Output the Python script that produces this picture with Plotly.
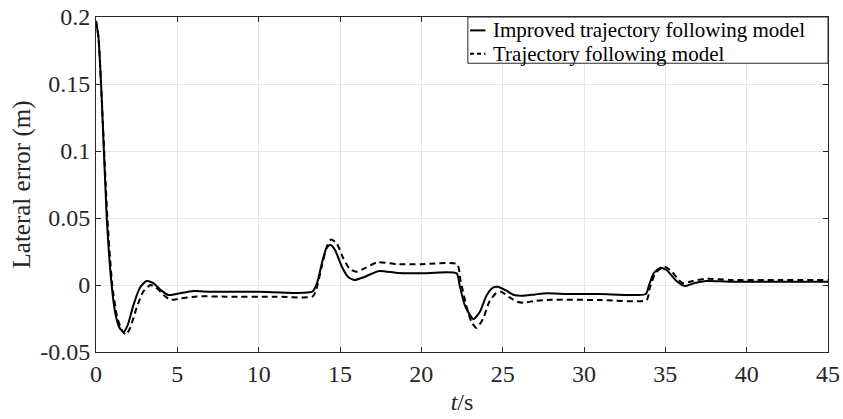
import plotly.graph_objects as go

# Improved trajectory following model (solid)
t_improved = [0, 0.15, 0.35, 0.66, 0.96, 1.2, 1.45, 1.7, 1.95, 2.3, 2.7, 3.1, 3.5, 4.0, 4.45, 5.0, 6.0, 7.0, 10.0, 13.3,
              13.6, 13.9, 14.15, 14.4, 14.7, 15.1, 15.5, 15.9, 16.5, 17.4, 18.5, 20.0, 22.17,
              22.35, 22.7, 23.2, 23.6, 24.0, 24.4, 24.7, 25.2, 25.7, 26.2, 27.0, 27.7, 29.0, 31.0, 33.8,
              34.0, 34.3, 34.7, 35.1, 35.6, 36.2, 36.8, 37.5, 39.0, 42.0, 45.0]
e_improved = [0.197, 0.185, 0.14, 0.05, 0.0, -0.022, -0.032, -0.035, -0.03, -0.015, -0.002, 0.003, 0.0015, -0.004, -0.0075, -0.0065, -0.0045, -0.005, -0.005, -0.005,
              0.002, 0.017, 0.027, 0.030, 0.026, 0.014, 0.006, 0.0037, 0.006, 0.0105, 0.009, 0.0087, 0.0087,
              0.0, -0.016, -0.0255, -0.02, -0.008, -0.002, -0.0013, -0.004, -0.0075, -0.008, -0.007, -0.0062, -0.0067, -0.0067, -0.0067,
              0.0, 0.009, 0.0128, 0.011, 0.004, -0.0007, 0.0015, 0.003, 0.0025, 0.0025, 0.0025]

# Trajectory following model (dashed)
t_base = [0, 0.15, 0.35, 0.7, 1.0, 1.3, 1.6, 1.85, 2.1, 2.5, 2.9, 3.35, 3.8, 4.2, 4.6, 5.2, 6.2, 8.0, 11.0, 13.3,
          13.5, 13.9, 14.2, 14.45, 14.8, 15.2, 15.6, 16.0, 16.6, 17.3, 18.5, 20.0, 22.2,
          22.4, 22.8, 23.1, 23.4, 23.8, 24.2, 24.6, 24.9, 25.4, 25.9, 26.3, 27.0, 28.0, 31.0, 33.85,
          34.05, 34.4, 34.95, 35.4, 35.8, 36.1, 36.7, 37.5, 39.0, 42.0, 45.0]
e_base = [0.197, 0.185, 0.14, 0.05, 0.0, -0.024, -0.034, -0.037, -0.032, -0.017, -0.005, 0.0, -0.003, -0.008, -0.011, -0.01, -0.0085, -0.0087, -0.0087, -0.0087,
          -0.005, 0.015, 0.029, 0.034, 0.031, 0.02, 0.012, 0.0099, 0.013, 0.017, 0.0155, 0.0155, 0.0155,
          0.004, -0.017, -0.028, -0.032, -0.025, -0.012, -0.006, -0.005, -0.009, -0.0125, -0.0132, -0.0118, -0.011, -0.0112, -0.0112,
          -0.002, 0.009, 0.0137, 0.01, 0.004, 0.0013, 0.003, 0.0047, 0.0038, 0.0037, 0.0037]

series_names = ["Improved trajectory following model", "Trajectory following model"]
series_dash = ["solid", "4px,3px"]

x_ticks = [0, 5, 10, 15, 20, 25, 30, 35, 40, 45]
y_ticks = [-0.05, 0, 0.05, 0.1, 0.15, 0.2]
y_tick_labels = ["-0.05", "0", "0.05", "0.1", "0.15", "0.2"]

FONT = "Liberation Serif, Times New Roman, serif"
TXT = "#262626"

fig = go.Figure()
fig.add_trace(go.Scatter(x=t_improved, y=e_improved, mode="lines", name=series_names[0],
                         line=dict(color="black", width=2, shape="spline", smoothing=0.6)))
fig.add_trace(go.Scatter(x=t_base, y=e_base, mode="lines", name=series_names[1],
                         line=dict(color="black", width=2, dash="6px,4px", shape="spline", smoothing=0.6)))

# Custom compact legend box (paper coordinates), MATLAB style
leg_x0, leg_x1, leg_y0, leg_y1 = 0.508, 1.0, 0.862, 1.0
row_y = [0.960, 0.890]
shapes = [dict(type="rect", xref="paper", yref="paper", x0=leg_x0, x1=leg_x1, y0=leg_y0, y1=leg_y1,
               line=dict(color=TXT, width=1), fillcolor="white", layer="above")]
annotations = []
for name, dash, yy in zip(series_names, series_dash, row_y):
    shapes.append(dict(type="line", xref="paper", yref="paper", x0=0.511, x1=0.532, y0=yy, y1=yy,
                       line=dict(color="black", width=2, dash=dash), layer="above"))
    annotations.append(dict(xref="paper", yref="paper", x=0.540, y=yy, xanchor="left", yanchor="middle",
                            text=name, showarrow=False,
                            font=dict(family=FONT, size=21, color="black")))

fig.update_layout(
    template="none",
    font=dict(family=FONT, size=24, color=TXT),
    width=843, height=419,
    margin=dict(l=96, r=15, t=17, b=67, autoexpand=False),
    plot_bgcolor="white", paper_bgcolor="white",
    showlegend=False,
    shapes=shapes,
    annotations=annotations,
    xaxis=dict(range=[0, 45], tickmode="array", tickvals=x_ticks, ticktext=[str(v) for v in x_ticks],
               showline=True, linecolor=TXT, linewidth=1, mirror="ticks",
               ticks="inside", ticklen=5, tickcolor=TXT,
               showgrid=True, gridcolor="#e6e6e6", gridwidth=1, zeroline=False,
               automargin=False,
               tickfont=dict(family=FONT, size=24, color=TXT),
               title=dict(text="<i>t</i>/s", font=dict(family=FONT, size=24, color=TXT), standoff=7)),
    yaxis=dict(range=[-0.05, 0.2], tickmode="array", tickvals=y_ticks, ticktext=y_tick_labels,
               showline=True, linecolor=TXT, linewidth=1, mirror="ticks",
               ticks="inside", ticklen=5, tickcolor=TXT,
               showgrid=True, gridcolor="#e6e6e6", gridwidth=1, zeroline=False,
               automargin=False,
               tickfont=dict(family=FONT, size=24, color=TXT),
               title=dict(text="Lateral error (m)", font=dict(family=FONT, size=25, color=TXT), standoff=2)),
)

fig.write_html("out.html")
